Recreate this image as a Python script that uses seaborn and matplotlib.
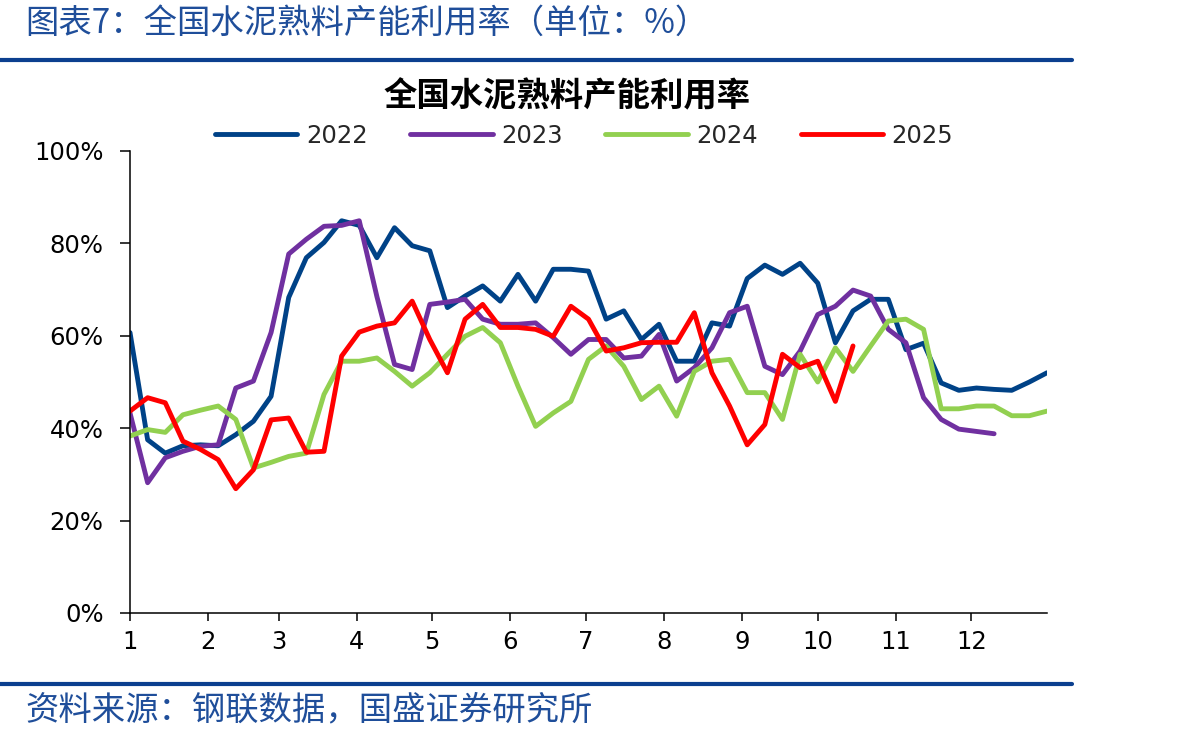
import numpy as np
import pandas as pd
import matplotlib
matplotlib.use('Agg')
import matplotlib.pyplot as plt
import seaborn as sns
from matplotlib.lines import Line2D
from matplotlib.ticker import FuncFormatter

# weekly clinker capacity utilisation (%), one value per week from Jan 1
util_2022 = [60.7, 37.5, 34.6, 36.2, 36.4, 36.2, 38.6, 41.5, 46.9, 68.3,
             76.9, 80.2, 84.9, 83.9, 76.9, 83.4, 79.5, 78.4, 66.1, 68.6,
             70.8, 67.5, 73.3, 67.5, 74.4, 74.4, 74.0, 63.6, 65.4, 59.2,
             62.5, 54.5, 54.5, 62.8, 62.1, 72.4, 75.3, 73.3, 75.7, 71.4,
             58.5, 65.4, 67.9, 67.9, 57.0, 58.4, 49.8, 48.2, 48.7, 48.4,
             48.2, 50.0, 52.0]
util_2023 = [43.3, 28.2, 33.6, 35.0, 36.1, 36.4, 48.7, 50.2, 60.7, 77.7,
             80.9, 83.7, 83.9, 84.9, 68.5, 53.8, 52.7, 66.8, 67.3, 67.9,
             63.6, 62.5, 62.5, 62.8, 59.6, 56.0, 59.2, 59.2, 55.2, 55.6,
             60.3, 50.2, 53.1, 57.4, 65.0, 66.4, 53.4, 51.6, 56.7, 64.6,
             66.4, 69.9, 68.6, 61.4, 58.5, 46.6, 41.9, 39.8, 39.3, 38.8]
util_2024 = [38.3, 39.7, 39.1, 42.9, 43.9, 44.8, 41.9, 31.4, 32.6, 33.9,
             34.6, 47.3, 54.5, 54.5, 55.2, 52.3, 49.1, 52.0, 56.0, 59.9,
             61.8, 58.5, 49.1, 40.4, 43.3, 45.8, 54.9, 57.8, 53.4, 46.2,
             49.1, 42.6, 52.3, 54.5, 54.9, 47.7, 47.7, 41.9, 56.0, 50.0,
             57.4, 52.3, 57.8, 63.2, 63.6, 61.4, 44.2, 44.2, 44.8, 44.8,
             42.7, 42.7, 43.7]
util_2025 = [43.7, 46.6, 45.5, 37.2, 35.4, 33.2, 26.9, 31.0, 41.8, 42.2,
             34.8, 35.0, 55.6, 60.8, 62.1, 62.8, 67.5, 59.2, 52.0, 63.6,
             66.8, 61.8, 61.8, 61.4, 59.9, 66.4, 63.6, 56.7, 57.4, 58.5,
             58.6, 58.6, 65.0, 52.0, 44.8, 36.4, 40.8, 56.0, 53.1, 54.5,
             45.8, 57.8]

years = ['2022', '2023', '2024', '2025']
series = [util_2022, util_2023, util_2024, util_2025]
colors = ['#004287', '#7030A0', '#92D050', '#FF0000']

month_labels = [str(m) for m in range(1, 13)]
month_start_days = [0, 31, 59, 90, 120, 151, 181, 212, 243, 273, 304, 334]

rows = []
for year, vals in zip(years, series):
    for i, v in enumerate(vals):
        rows.append({'day': i * 7, 'value': v, 'year': year})
df = pd.DataFrame(rows)

sns.set_style('white')
plt.rcParams['font.family'] = ['DejaVu Sans', 'Noto Sans CJK SC']

W, H = 1192, 739
fig = plt.figure(figsize=(W / 100, H / 100), dpi=100)
ax = fig.add_axes([130 / W, 1 - 613 / H, 917 / W, 462 / H])

sns.lineplot(data=df, x='day', y='value', hue='year', hue_order=years,
             palette=colors, linewidth=3.5, ax=ax, legend=False)

ax.set_xlim(0, 364)
ax.set_ylim(0, 100)
ax.set_yticks(range(0, 101, 20))
ax.yaxis.set_major_formatter(FuncFormatter(lambda v, p: f'{v:.0f}%'))
ax.set_xticks(month_start_days)
ax.set_xticklabels(month_labels)
ax.set_xlabel('')
ax.set_ylabel('')
for side in ['top', 'right']:
    ax.spines[side].set_visible(False)
for side in ['left', 'bottom']:
    ax.spines[side].set_color('black')
    ax.spines[side].set_linewidth(1.1)
ax.tick_params(axis='y', direction='out', length=7, width=1.1, pad=12,
               labelsize=17.5, colors='black', left=True)
ax.tick_params(axis='x', direction='out', length=6, width=1.1, pad=6,
               labelsize=17.5, colors='black', bottom=True)

handles = [Line2D([], [], color=c, lw=3.5) for c in colors]
fig.legend(handles, years, loc='center', bbox_to_anchor=(584 / W, 1 - 136 / H),
           ncol=4, frameon=False, fontsize=17.5, handlelength=3.4,
           handletextpad=0.35, columnspacing=1.75)

cjk = ['Noto Sans CJK SC', 'DejaVu Sans']
fig.text(567 / W, 1 - 97 / H, '全国水泥熟料产能利用率', ha='center', va='center',
         fontsize=24, fontweight='bold', family=cjk, color='black')
fig.text(25 / W, 1 - 23 / H, '图表7：全国水泥熟料产能利用率（单位：%）',
         ha='left', va='center', fontsize=24, family=cjk, color='#1F4E9A',
         style='italic')
fig.text(25 / W, 1 - 710 / H, '资料来源：钢联数据，国盛证券研究所',
         ha='left', va='center', fontsize=24, family=cjk, color='#1F4E9A',
         style='italic')

for yy in [60, 684]:
    fig.add_artist(Line2D([0, 1072 / W], [1 - yy / H] * 2, lw=3,
                          color='#0B3F8F', transform=fig.transFigure))

fig.savefig('out.png', dpi=100)
